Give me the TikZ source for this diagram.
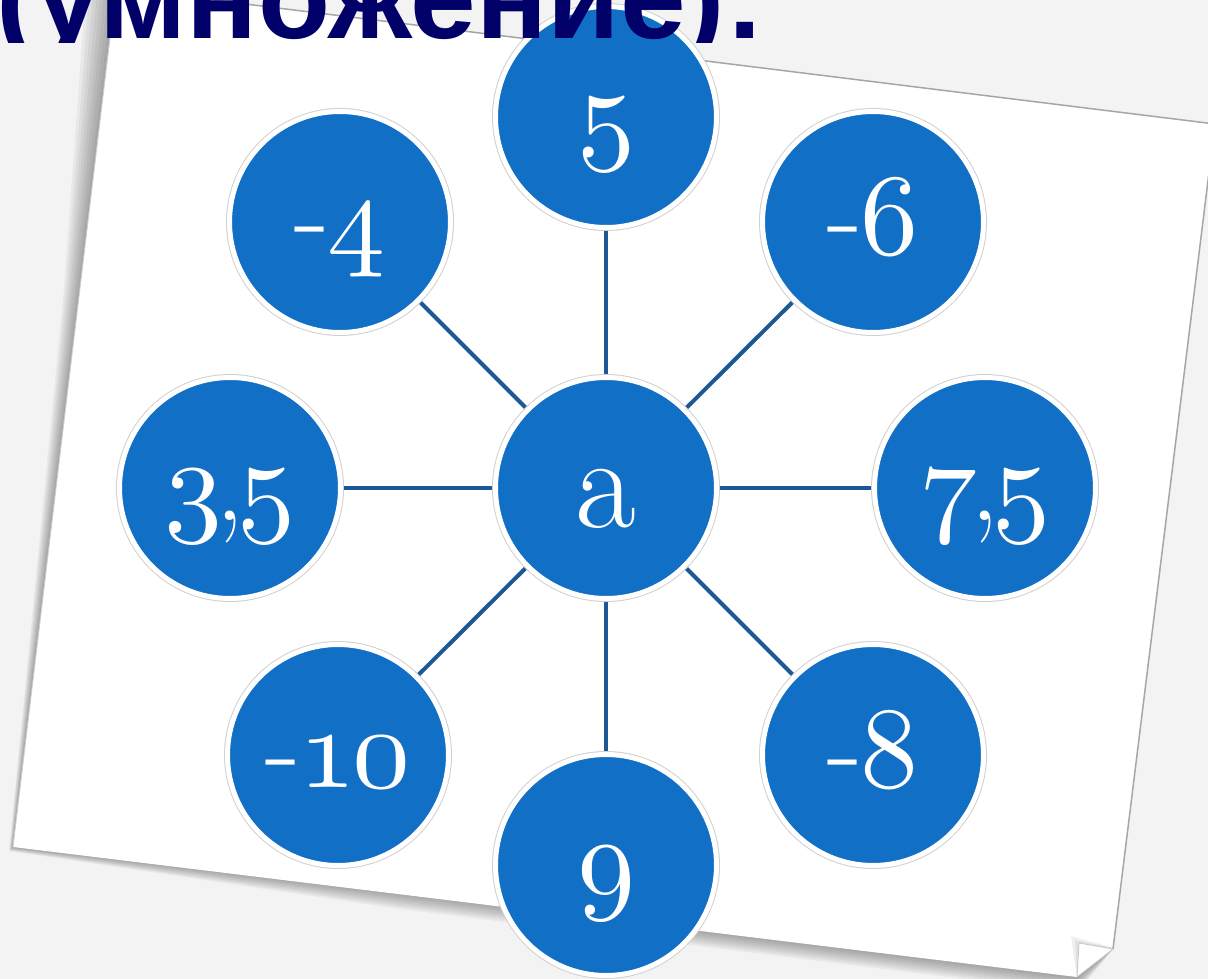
\documentclass[tikz,border=0pt]{standalone}
\usepackage{fontspec}
\newfontfamily\titlefont{Liberation Sans}
\usetikzlibrary{calc}
\definecolor{bubblue}{RGB}{18,111,198}
\definecolor{spoke}{RGB}{28,88,150}
\definecolor{navy}{RGB}{0,0,104}
\definecolor{bgc}{RGB}{243,243,243}
\DeclareFontFamily{OML}{myosf}{\skewchar\font=127 }
\DeclareFontShape{OML}{myosf}{m}{it}{<-> cmmi10}{}
\newcommand\osf[1]{{\fontencoding{OML}\fontfamily{myosf}\fontseries{m}\fontshape{it}\selectfont #1}}
\pgfdeclarelayer{paperlayer}
\pgfdeclarelayer{edgelayer}
\pgfsetlayers{paperlayer,edgelayer,main}
\tikzset{
  bubble/.style={circle, minimum size=221pt, inner sep=0pt, fill=bubblue, draw=white, line width=5pt,
     preaction={draw=black!18, line width=7pt}, text=white,
     font=\fontsize{116}{116}\selectfont, text height=64pt, text depth=0pt},
  spokeline/.style={draw=spoke, line width=4pt},
  papershadow/.style={fill=black, opacity=0.045},
}
\begin{document}
\begin{tikzpicture}[x=1pt,y=-1pt]
\useasboundingbox (0,0) rectangle (1208,979);
\clip (0,0) rectangle (1208,979);
\begin{pgfonlayer}{paperlayer}
  \fill[bgc] (0,0) rectangle (1208,979);
  \foreach \s in {1,0.875,0.75,0.625,0.5,0.375,0.25,0.125}{
    \fill[papershadow] (116,-12) -- ({116-30*\s},-12) -- ({79.8-16*\s},290) -- ({42.6-9*\s},600)
      -- ({13-4*\s},{847+4*\s}) -- (400,{893+16*\s}) -- (1077,{977+16*\s}) -- (1113,949) -- (1215,124) -- cycle;
  }
  \fill[white] (116,-12) -- (1215,124) -- (1113,949) -- (1077,977) -- (13,847) -- cycle;
  \draw[black!35, line width=1.5pt] (116,-12) -- (1215,124) -- (1113,949);
  \draw[black!20, line width=0.8pt] (13,847) -- (116,-12);
  % curled corner
  \fill[black, opacity=0.06] (1077,978) -- (1114,948) -- (1071,936) -- cycle;
  \fill[black, opacity=0.06] (1077,978) -- (1114,948) -- (1075,940) -- cycle;
  \fill[white] (1077,977) -- (1113,949) -- (1079,943) -- cycle;
  \draw[black!22, line width=0.8pt] (1077,977) -- (1113,949) -- (1079,943) -- cycle;
\end{pgfonlayer}

\node[bubble, text height=78pt, font=\fontsize{132}{132}\selectfont] (a) at (606,488) {a};
\node[bubble] (n5) at (606,117) {\osf{5}};
\node[bubble] (n9) at (606,865) {\osf{9}};
\node[bubble] (n35) at (230,488) {\osf{3}\kern-7pt,\kern-7pt\osf{5}};
\node[bubble] (n75) at (985,488) {\osf{7}\kern-7pt,\kern-7pt\osf{5}};
\node[bubble] (nm4) at (340,222) {-\kern-3pt\osf{4}};
\node[bubble] (nm6) at (873,222) {-\kern-3pt\osf{6}};
\node[bubble] (nm10) at (338,755) {-\kern-3pt\osf{1\kern-4pt0}};
\node[bubble] (nm8) at (873,755) {-\kern-3pt\osf{8}};

\begin{pgfonlayer}{edgelayer}
  \foreach \n in {n5,n9,n35,n75,nm4,nm6,nm10,nm8}{
    \draw[spokeline] (a) -- (\n);
  }
\end{pgfonlayer}

\begin{scope}
  \clip (-20,-20) rectangle (820,43);
  \node[anchor=base west, inner sep=0pt, text=navy, font=\titlefont\bfseries\fontsize{118}{118}\selectfont] (title) at (-4,39) {(умножение):};
\end{scope}
\end{tikzpicture}
\end{document}
